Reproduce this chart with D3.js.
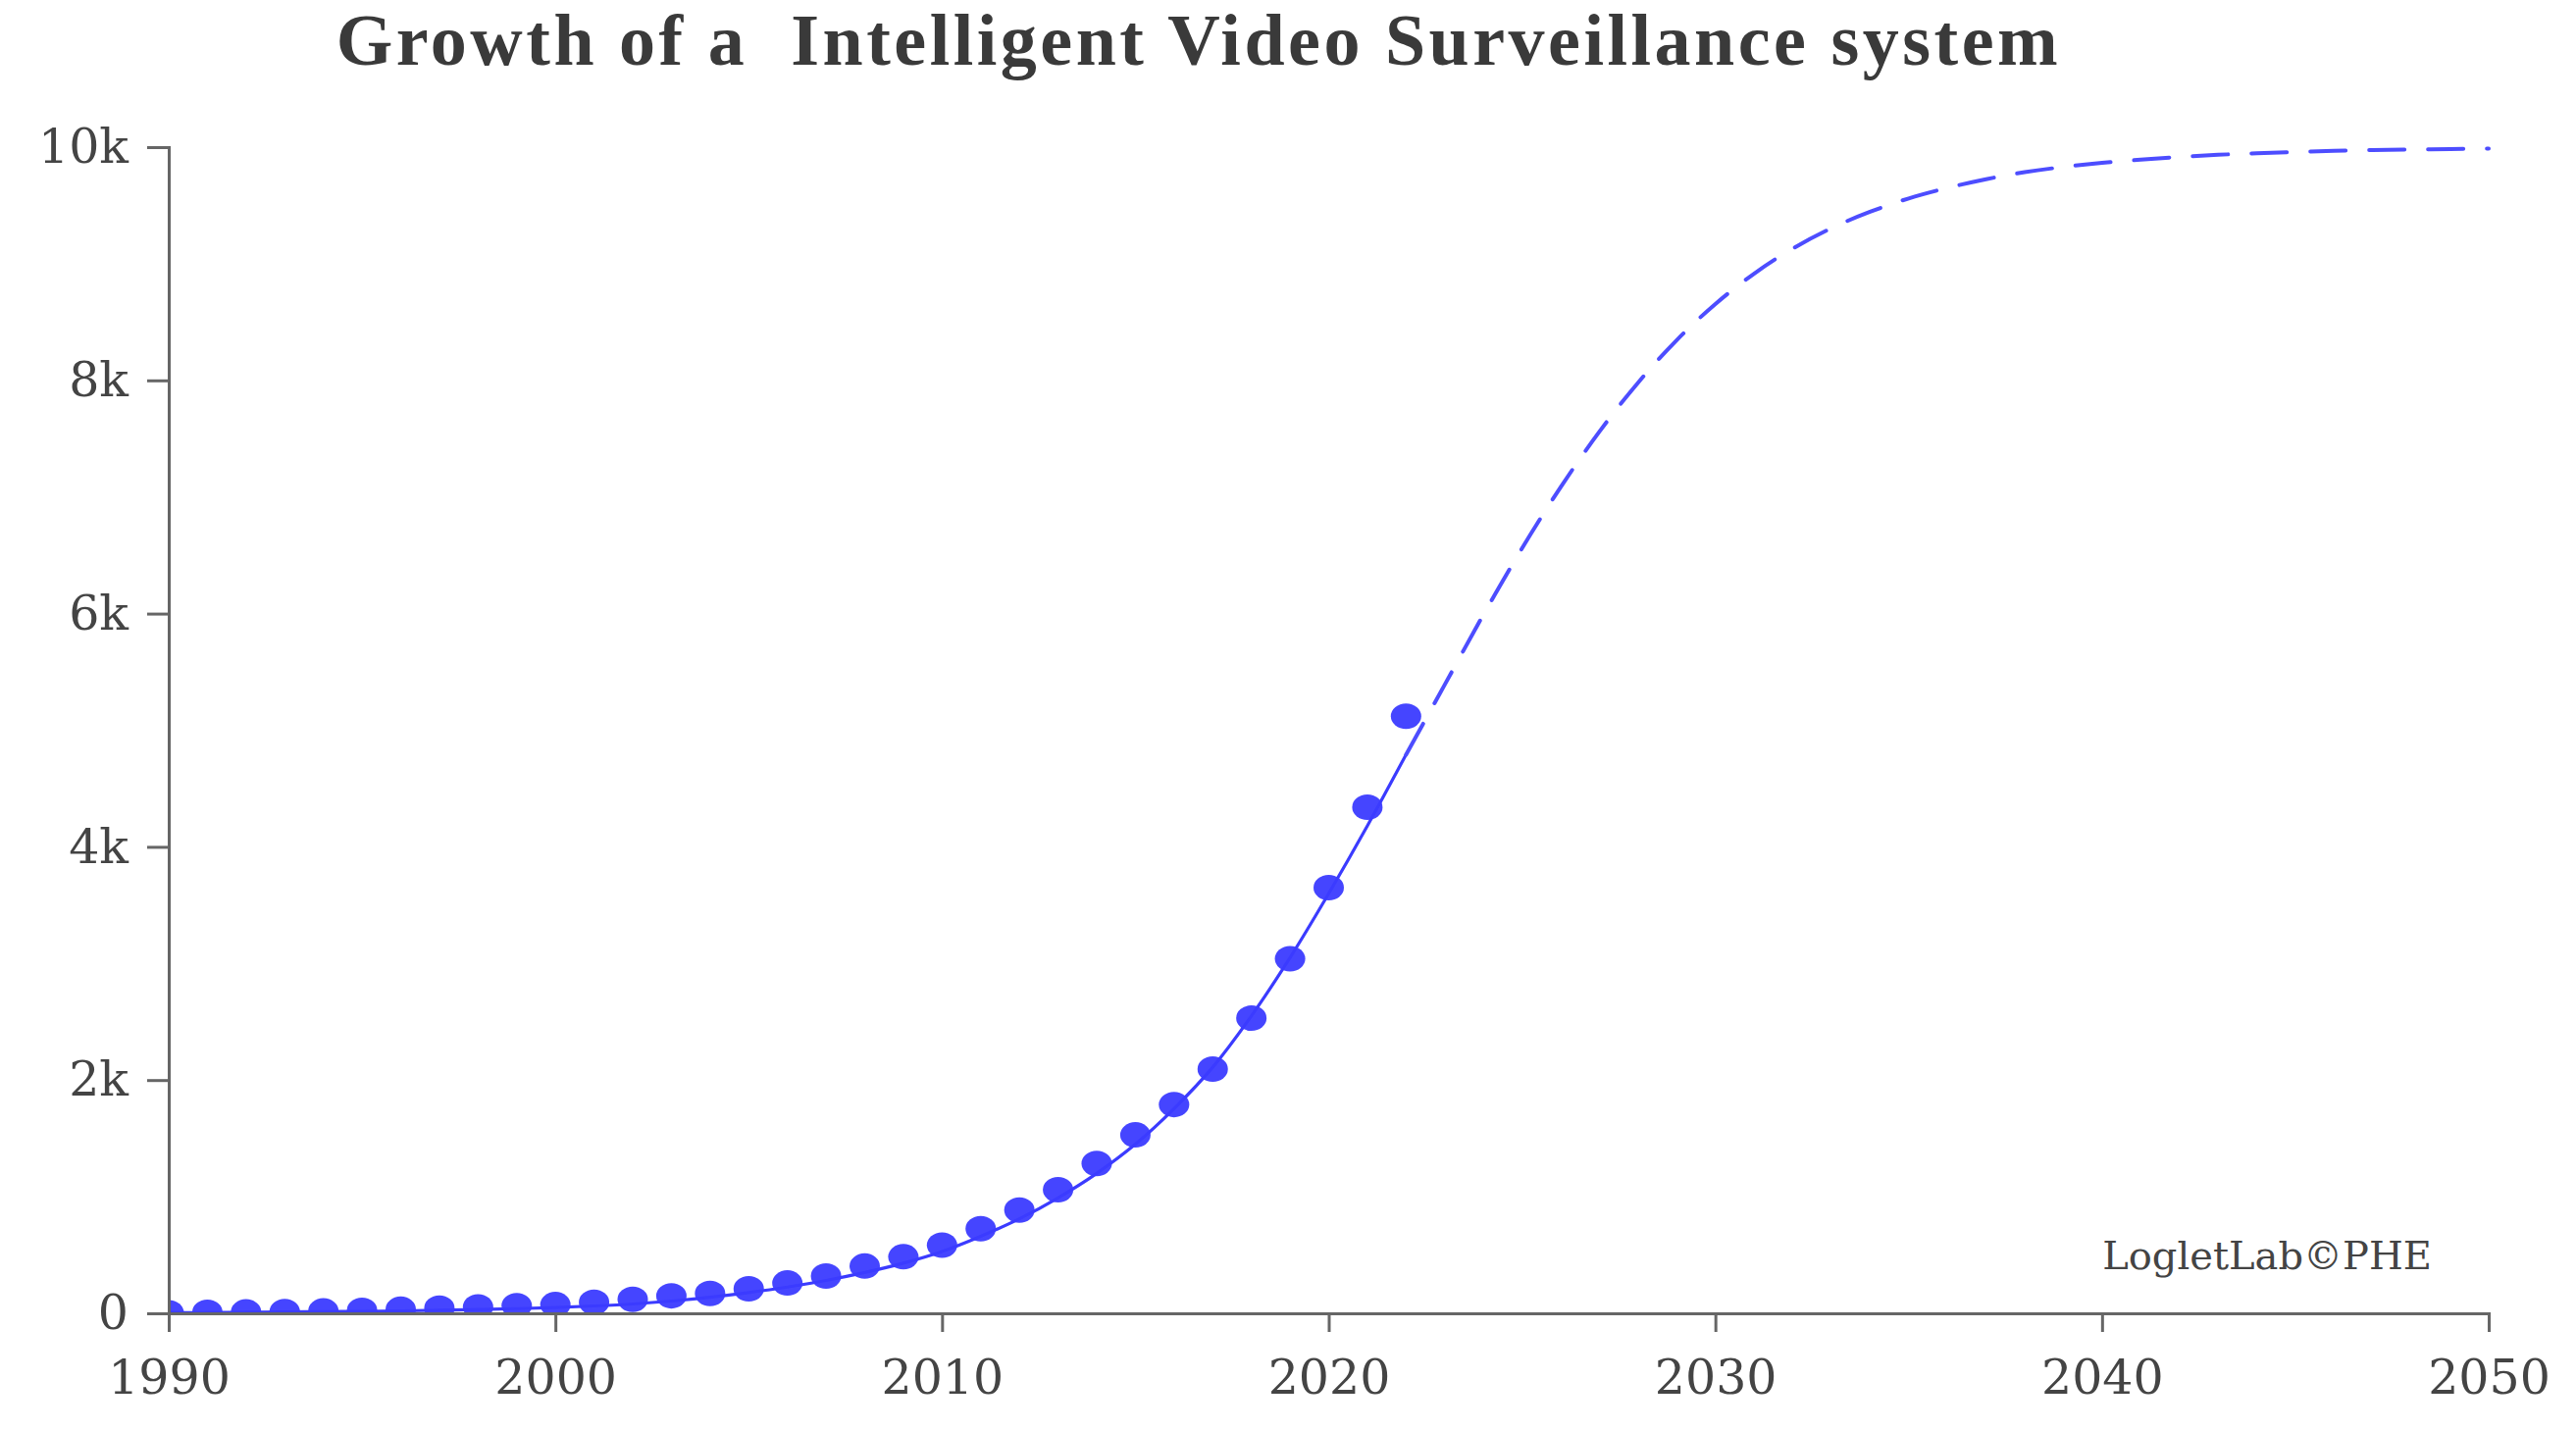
<!DOCTYPE html>
<html>
<head>
<meta charset="utf-8">
<script src="https://cdn.jsdelivr.net/npm/d3@7"></script>
<style>
  html, body { margin: 0; padding: 0; background: #fff; }
  svg { display: block; }
</style>
</head>
<body>
<svg id="chart" width="2626" height="1459"></svg>
<script>
// ---- data ----
const titleText = "Growth of a  Intelligent Video Surveillance system";
const watermark = "LogletLab\u00A9PHE";

const obsYears = [1990,1991,1992,1993,1994,1995,1996,1997,1998,1999,
                  2000,2001,2002,2003,2004,2005,2006,2007,2008,2009,
                  2010,2011,2012,2013,2014,2015,2016,2017,2018,2019,
                  2020,2021,2022];
const obsValues = [5,8,12,15,20,26,35,45,55,65,
                   75,95,120,150,170,210,260,320,405,485,
                   585,725,885,1060,1285,1530,1790,2094,2531,3040,
                   3650,4340,5120];

const fitYears = [1990,1991,1992,1993,1994,1995,1996,1997,1998,1999,
                  2000,2001,2002,2003,2004,2005,2006,2007,2008,2009,
                  2010,2011,2012,2013,2014,2015,2016,2017,2018,2019,
                  2020,2021,2022,2023,2024,2025,2026,2027,2028,2029,
                  2030,2031,2032,2033,2034,2035,2036,2037,2038,2039,
                  2040,2041,2042,2043,2044,2045,2046,2047,2048,2049,2050];
const fitValues = [5,7,9,11,14,17,21,26,32,40,
                   50,63,80,105,138,178,225,282,350,430,
                   530,660,810,990,1200,1450,1755,2110,2550,3050,
                   3600,4180,4790,5390,5990,6560,7085,7560,7980,8345,
                   8655,8915,9130,9305,9445,9560,9650,9725,9785,9830,
                   9865,9893,9916,9934,9948,9959,9968,9975,9980,9984,9988];
const forecastStart = 2022;

const xTickValues = [1990,2000,2010,2020,2030,2040,2050];
const yTickValues = [0,2000,4000,6000,8000,10000];

// ---- layout ----
const svg = d3.select("#chart");
const x = d3.scaleLinear().domain([1990, 2050]).range([172, 2537]);
const y = d3.scaleLinear().domain([0, 10000]).range([1339, 150]);

const blue = "#3b3bff";
const defs = svg.append("defs");

defs.append("clipPath").attr("id", "plotclip")
  .append("rect")
  .attr("x", x(1990)).attr("y", y(10000) - 20)
  .attr("width", x(2050) - x(1990) + 20)
  .attr("height", y(0) - y(10000) + 20);

const plot = svg.append("g").attr("clip-path", "url(#plotclip)");

const fit = fitYears.map((t, i) => ({t, v: fitValues[i]}));
const line = d3.line().x(d => x(d.t)).y(d => y(d.v)).curve(d3.curveMonotoneX);

plot.append("path")
  .datum(fit.filter(d => d.t <= forecastStart))
  .attr("d", line)
  .attr("fill", "none")
  .attr("stroke", blue)
  .attr("stroke-width", 3.2);

plot.append("path")
  .datum(fit.filter(d => d.t >= forecastStart))
  .attr("d", line)
  .attr("fill", "none")
  .attr("stroke", "#4d4dff")
  .attr("stroke-width", 4)
  .attr("stroke-linecap", "round")
  .attr("stroke-dasharray", "36,24");

// dots (clipped at the x axis)
defs.append("clipPath").attr("id", "dotclip")
  .append("rect")
  .attr("x", x(1990)).attr("y", 0)
  .attr("width", x(2050) - x(1990)).attr("height", y(0));

svg.append("g").attr("clip-path", "url(#dotclip)")
  .selectAll("ellipse")
  .data(obsYears.map((t, i) => ({t, v: obsValues[i]})))
  .join("ellipse")
  .attr("cx", d => x(d.t))
  .attr("cy", d => y(d.v))
  .attr("rx", 15.5)
  .attr("ry", 13)
  .attr("fill", blue)
  .attr("fill-opacity", 0.95);

// axes
const axisColor = "#666";
const tickFont = "DejaVu Serif, serif";

const xAxis = svg.append("g")
  .attr("transform", `translate(0,${y(0)})`)
  .call(d3.axisBottom(x).tickValues(xTickValues).tickFormat(d3.format("d"))
        .tickSize(19).tickPadding(28));
const yAxis = svg.append("g")
  .attr("transform", `translate(${x(1990)},0)`)
  .call(d3.axisLeft(y).tickValues(yTickValues).tickFormat(d3.format("~s"))
        .tickSize(22).tickPadding(19));

[xAxis, yAxis].forEach(g => {
  g.select(".domain").attr("stroke", axisColor).attr("stroke-width", 3);
  g.selectAll(".tick line").attr("stroke", axisColor).attr("stroke-width", 3);
  g.selectAll(".tick text")
    .attr("fill", "#444")
    .style("font-family", tickFont)
    .style("font-size", "49px");
});

// title
svg.append("text")
  .attr("x", 1222)
  .attr("y", 66)
  .attr("text-anchor", "middle")
  .style("white-space", "pre")
  .style("font-family", "Liberation Serif, serif")
  .style("font-weight", "bold")
  .style("font-size", "74px")
  .style("letter-spacing", "3.5px")
  .attr("fill", "#3a3a3a")
  .text(titleText);

// watermark
svg.append("text")
  .attr("x", 2479)
  .attr("y", 1294)
  .attr("text-anchor", "end")
  .style("font-family", tickFont)
  .style("font-size", "40px")
  .attr("fill", "#444")
  .text(watermark);
</script>
</body>
</html>
